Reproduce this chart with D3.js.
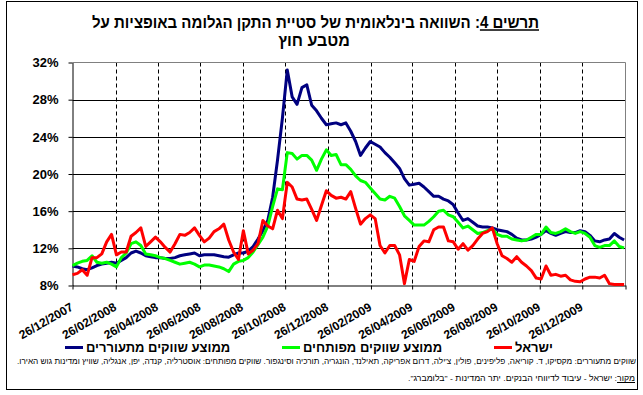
<!DOCTYPE html>
<html><head><meta charset="utf-8">
<script src="https://cdn.jsdelivr.net/npm/d3@7"></script>
<style>
body{margin:0;background:#fff;}
svg{display:block;font-family:"Liberation Sans",Arial,"DejaVu Sans",sans-serif;}
</style>
</head><body>
<svg id="c" width="643" height="395"></svg>
<script>
// ---------- data ----------
const firstWeek = "26/12/2007";          // first weekly observation
const axisEnd = "26/02/2010";            // end of the date axis
const xTickLabels = ["26/12/2007","26/02/2008","26/04/2008","26/06/2008","26/08/2008","26/10/2008",
  "26/12/2008","26/02/2009","26/04/2009","26/06/2009","26/08/2009","26/10/2009","26/12/2009"];
const yTicks = [8,12,16,20,24,28,32];

const israel = [
  9.15, 9.3, 9.7, 9.1, 11.0, 11.0, 11.4, 12.7, 13.5, 11.3,
  11.6, 11.6, 13.3, 13.7, 14.2, 12.2, 12.7, 13.2, 12.7, 12.1,
  11.6, 12.5, 13.5, 13.4, 13.7, 14.2, 13.4, 12.7, 13.1, 13.8,
  14.1, 14.6, 12.9, 11.6, 10.8, 13.9, 11.4, 11.8, 12.5, 15.0,
  14.4, 14.1, 16.1, 15.2, 19.1, 18.6, 17.3, 17.2, 17.3, 16.2,
  15.0, 16.6, 18.2, 17.7, 17.4, 17.5, 17.3, 18.1, 16.3, 14.6,
  15.2, 15.6, 15.2, 12.3, 11.5, 12.3, 12.3, 11.3, 8.2, 10.8,
  10.6, 12.2, 12.8, 12.7, 14.0, 14.3, 14.3, 12.8, 12.7, 11.9,
  12.5, 11.8, 12.3, 13.0, 13.6, 13.8, 14.2, 12.5, 11.2, 10.9,
  10.5, 11.1, 10.5, 10.1, 9.6, 8.8, 8.7, 10.1, 9.1, 9.2,
  9.0, 9.1, 8.6, 8.45, 8.4, 8.7, 8.9, 8.9, 8.8, 9.1,
  8.2, 8.1, 8.1, 8.1];

const developed = [
  10.15, 10.4, 10.6, 10.7, 11.2, 10.5, 10.4, 10.5, 10.3, 10.0,
  11.0, 11.5, 12.5, 12.7, 12.3, 11.4, 11.3, 11.2, 11.0, 10.9,
  10.7, 10.5, 10.3, 10.4, 10.5, 10.3, 10.0, 10.2, 10.2, 10.1,
  10.0, 9.8, 9.5, 10.3, 10.6, 10.7, 11.0, 11.6, 12.4, 13.2,
  14.4, 16.5, 18.4, 18.3, 22.3, 22.2, 21.6, 22.0, 22.0, 21.5,
  20.4, 21.6, 22.6, 22.0, 22.1, 21.0, 21.0, 20.5, 19.8, 19.3,
  19.1, 18.5, 17.9, 17.3, 17.2, 17.6, 17.4, 16.5, 15.5, 15.0,
  14.5, 14.5, 14.5, 14.9, 15.4, 16.0, 16.1, 15.6, 15.4, 14.8,
  14.2, 14.4, 14.0, 13.6, 13.7, 13.9, 14.1, 13.5, 13.3, 13.3,
  13.0, 12.9, 12.8, 12.9, 13.2, 13.5, 13.5, 14.3, 13.7, 13.6,
  13.8, 14.1, 13.8, 13.6, 13.8, 13.6, 13.2, 12.3, 12.1, 12.3,
  12.3, 12.8, 12.2, 12.05];

const emerging = [
  10.1, 10.0, 9.8, 9.7, 9.9, 10.15, 10.3, 10.4, 10.5, 10.4,
  10.7, 11.0, 11.5, 11.7, 11.5, 11.2, 11.1, 11.0, 11.0, 10.9,
  10.9, 11.0, 11.2, 11.3, 11.4, 11.5, 11.2, 11.3, 11.3, 11.3,
  11.2, 11.1, 11.05, 11.3, 11.5, 11.5, 11.7, 12.2, 13.0, 13.9,
  15.0, 17.5, 21.5, 26.0, 31.2, 28.3, 27.5, 29.3, 29.6, 27.4,
  26.8, 26.0, 25.3, 25.4, 25.5, 25.3, 25.5, 24.6, 23.5, 22.0,
  22.8, 23.5, 23.2, 22.9, 22.3, 21.8, 21.2, 20.6, 19.5, 18.8,
  18.9, 19.0, 18.6, 18.1, 17.6, 17.6, 17.3, 17.1, 16.7, 15.8,
  15.0, 15.2, 14.8, 14.4, 14.3, 14.3, 14.2, 14.0, 13.9, 13.8,
  13.5, 13.1, 12.9, 12.9, 13.0, 13.2, 13.5, 13.9, 13.6, 13.4,
  13.6, 13.8, 13.7, 13.7, 13.9, 13.8, 13.4, 12.8, 12.7, 12.9,
  13.0, 13.6, 13.2, 12.9];

const seriesNames = ["ממוצע שווקים מתעוררים", "ממוצע שווקים מפותחים", "ישראל"];
const seriesColors = ["#000080", "#00ff00", "#ff0000"];

const titleLine1 = "תרשים 4: השוואה בינלאומית של סטיית התקן הגלומה באופציות על";
const titleUnderlineChars = 7;   // "תרשים 4" is underlined
const titleLine2 = "מטבע חוץ";
const note1 = "שווקים מתעוררים: מקסיקו, ד. קוריאה, פליפינים, פולין, צ'ילה, דרום אפריקה, תאילנד, הונגריה, תורכיה וסינגפור. שווקים מפותחים: אוסטרליה, קנדה, יפן, אנגליה, שוויץ ומדינות גוש האירו.";
const note2 = "מקור: ישראל - עיבוד לדיווחי הבנקים. יתר המדינות - \"בלומברג\".";
const note2UnderlineChars = 4;   // "מקור" is underlined

// ---------- layout ----------
const svg = d3.select("#c");
const parse = d3.timeParse("%d/%m/%Y");
const start = parse(firstWeek);
const dates = israel.map((_, i) => d3.timeDay.offset(start, 7 * i));
const tickDates = xTickLabels.map(parse);
const endDate = parse(axisEnd);

const pL = 72.5, pR = 625.5, pT = 62.5, pB = 285.5;
const x = d3.scaleTime().domain([start, endDate]).range([pL, pR]);
const y = d3.scaleLinear().domain([8, 32]).range([pB, pT]);

// underline helper: draws a line under the first n characters of a text element
function underline(textSel, n, offset, width) {
  const node = textSel.node();
  let x0 = Infinity, x1 = -Infinity;
  for (let i = 0; i < n; i++) {
    const e = node.getExtentOfChar(i);
    if (e.width === 0 && e.height === 0) continue;
    x0 = Math.min(x0, e.x); x1 = Math.max(x1, e.x + e.width);
  }
  const base = +textSel.attr("y") + offset;
  svg.append("line").attr("x1", x0).attr("x2", x1).attr("y1", base).attr("y2", base)
    .attr("stroke", "#000").attr("stroke-width", width);
}

// outer frame
svg.append("rect").attr("x", 6.5).attr("y", 1.5).attr("width", 631).attr("height", 388)
  .attr("fill", "#fff").attr("stroke", "#000").attr("stroke-width", 1);

// title
const t1 = svg.append("text").attr("x", 315.5).attr("y", 27.5).attr("text-anchor", "middle")
  .attr("direction", "rtl").attr("font-weight", "bold").attr("font-size", 16)
  .attr("textLength", 447).attr("lengthAdjust", "spacingAndGlyphs").text(titleLine1);
underline(t1, titleUnderlineChars, 2.5, 1.5);
svg.append("text").attr("x", 314).attr("y", 46).attr("text-anchor", "middle")
  .attr("direction", "rtl").attr("font-weight", "bold").attr("font-size", 16).text(titleLine2);

// horizontal gridlines
svg.append("g").selectAll("line").data(yTicks.filter(v => v > 8 && v < 32)).join("line")
  .attr("x1", pL).attr("x2", pR).attr("y1", d => Math.round(y(d)) + 0.5).attr("y2", d => Math.round(y(d)) + 0.5)
  .attr("stroke", "#000").attr("stroke-width", 1);

// vertical dashed gridlines
svg.append("g").selectAll("line").data(tickDates.slice(1)).join("line")
  .attr("x1", d => Math.round(x(d)) + 0.5).attr("x2", d => Math.round(x(d)) + 0.5)
  .attr("y1", pT).attr("y2", pB)
  .attr("stroke", "#000").attr("stroke-width", 1).attr("stroke-dasharray", "4,3");

// plot border top/right (grey)
svg.append("path").attr("d", `M${pL},${pT}H${pR}V${pB}`)
  .attr("fill", "none").attr("stroke", "#808080").attr("stroke-width", 1);

// axes
const yAxis = svg.append("g").attr("transform", `translate(${pL},0)`)
  .call(d3.axisLeft(y).tickValues(yTicks).tickFormat(d => d + "%").tickSizeInner(4).tickSizeOuter(0).tickPadding(10));
yAxis.selectAll("text").attr("font-size", 13).attr("font-weight", "bold").attr("fill", "#000")
  .attr("font-family", "Liberation Sans, Arial, sans-serif");
yAxis.selectAll("line,path").attr("stroke", "#000");

const xAxis = svg.append("g").attr("transform", `translate(0,${pB})`)
  .call(d3.axisBottom(x).tickValues(tickDates.concat([endDate]))
    .tickFormat((d, i) => xTickLabels[i] || "").tickSizeInner(4).tickSizeOuter(0));
xAxis.selectAll("text").attr("x", 0).attr("y", 0).attr("dy", 0)
  .attr("transform", "translate(1,24) rotate(-30)").attr("text-anchor", "end")
  .attr("font-size", 12).attr("font-weight", "bold").attr("fill", "#000")
  .attr("font-family", "Liberation Sans, Arial, sans-serif");
xAxis.selectAll("line,path").attr("stroke", "#000");

// series
const series = [emerging, developed, israel];
const line = d3.line().x((d, i) => x(dates[i])).y(d => y(d));
svg.append("g").selectAll("path").data(series).join("path")
  .attr("d", d => line(d)).attr("fill", "none")
  .attr("stroke", (d, i) => seriesColors[i]).attr("stroke-width", 3)
  .attr("stroke-linejoin", "round");

// legend
const legendX = [65, 282, 494];
const lg = svg.append("g");
seriesNames.forEach((name, i) => {
  lg.append("line").attr("x1", legendX[i]).attr("x2", legendX[i] + 18).attr("y1", 347.5).attr("y2", 347.5)
    .attr("stroke", seriesColors[i]).attr("stroke-width", 3);
  const t = lg.append("text").attr("text-anchor", "middle").attr("direction", "rtl")
    .attr("y", 352).attr("font-size", 13).attr("font-weight", "bold").text(name);
  const w = t.node().getComputedTextLength();
  t.attr("x", legendX[i] + 21 + w / 2);
});

// notes
svg.append("text").attr("x", 326.5).attr("y", 363.5).attr("text-anchor", "middle").attr("direction", "rtl")
  .attr("font-size", 8).attr("textLength", 619).attr("lengthAdjust", "spacingAndGlyphs").text(note1);
const n2 = svg.append("text").attr("x", 521.5).attr("y", 381).attr("text-anchor", "middle").attr("direction", "rtl")
  .attr("font-size", 8).attr("textLength", 227).attr("lengthAdjust", "spacingAndGlyphs").text(note2);
underline(n2, note2UnderlineChars, 1.5, 1);
</script>
</body></html>
